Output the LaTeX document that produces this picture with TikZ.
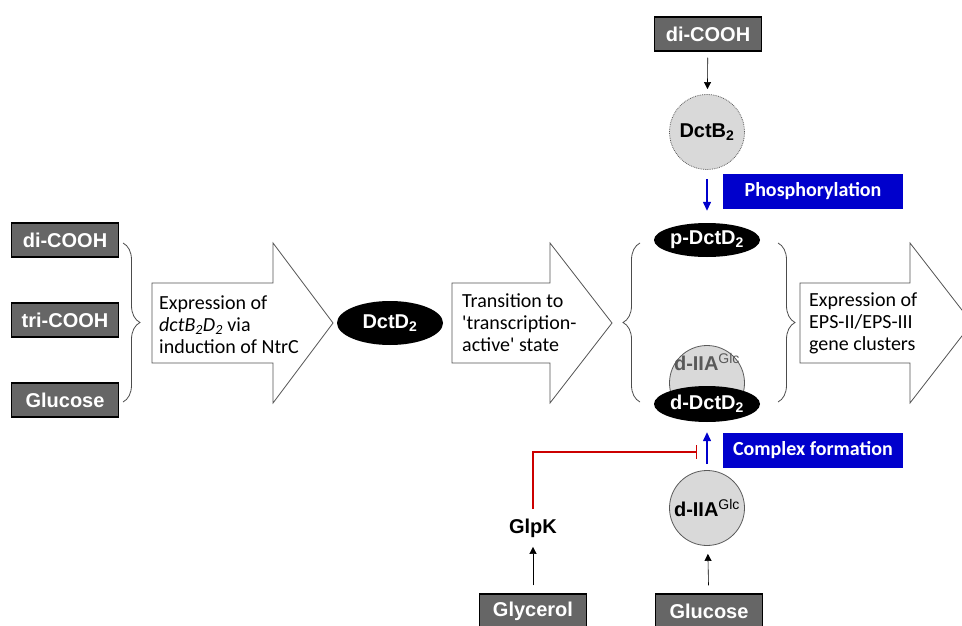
\documentclass[tikz,border=0pt]{standalone}
\usepackage{fontspec}
\setmainfont{Liberation Sans}
\newfontfamily\calibri{Carlito}
\usetikzlibrary{shapes.geometric,decorations.pathreplacing,arrows.meta}
\definecolor{boxgray}{HTML}{666666}
\definecolor{procblue}{HTML}{0000CC}
\definecolor{inhred}{HTML}{CC0000}
\definecolor{domgray}{HTML}{D9D9D9}
\tikzset{
  substrate/.style={rectangle,draw=black,line width=1.5pt,fill=boxgray,text=white,
    font=\fontsize{20}{22}\selectfont\bfseries,minimum width=107pt,minimum height=34pt,inner sep=0pt},
  protein/.style={ellipse,fill=black,text=white,font=\fontsize{20}{22}\selectfont\bfseries,
    minimum width=106pt,minimum height=34pt,inner sep=0pt},
  subunit/.style={circle,fill=domgray,draw=gray!70!black,line width=0.8pt,minimum size=75pt,
    inner sep=0pt,font=\fontsize{20}{22}\selectfont\bfseries},
  process/.style={rectangle,fill=procblue,text=white,font=\calibri\fontsize{20}{22}\selectfont\bfseries,
    minimum width=180pt,minimum height=35pt,inner sep=0pt},
  bigarrow/.style={draw=gray!65!black,fill=white,line width=0.8pt,line join=miter},
  steptext/.style={font=\calibri\fontsize{20}{22}\selectfont,align=left,anchor=west,inner sep=0pt},
  grouping/.style={draw=gray!60!black,line width=0.8pt,decorate,decoration={brace,amplitude=17pt}},
  flow/.style={-{Triangle[length=7pt,width=7pt]},line width=0.6pt},
  bluearrow/.style={-{Triangle[length=9pt,width=8pt]},procblue,line width=1.4pt},
}
\begin{document}
\begin{tikzpicture}[x=1pt,y=-1pt]
    \clip (0,0) rectangle (962,626);
    % big process arrows
    \draw[bigarrow] (152,283) -- (273,283) -- (273,243) -- (333,323) -- (273,403) -- (273,363) -- (152,363) -- cycle;
    \draw[bigarrow] (452,283) -- (550,283) -- (550,243) -- (612,323) -- (550,403) -- (550,363) -- (452,363) -- cycle;
    \draw[bigarrow] (800,283) -- (910,283) -- (910,243) -- (972,323) -- (910,403) -- (910,363) -- (800,363) -- cycle;
    \draw node (expr) at(159,325) [steptext] {Expression of\\{\itshape dctB\textsubscript{2}D\textsubscript{2}} via\\induction of NtrC}
          node (trans) at(462,323) [steptext] {Transition to\\'transcription-\\active' state}
          node (eps) at(809,323) [steptext] {Expression of\\EPS-II/EPS-III\\gene clusters};
    % carbon sources
    \draw node (dicooh) at(65,240) [substrate] {di-COOH}
          node (tricooh) at(65,320) [substrate] {tri-COOH}
          node (glc) at(65,400) [substrate] {Glucose}
          node (dctd) at(390,323) [protein,minimum height=44pt] {DctD\textsubscript{2}};
    \draw[grouping] (123,243) -- (123,402);
    \draw[grouping,decoration={mirror}] (640,243) -- (640,402);
    \draw[grouping] (778,243) -- (778,402);
    % phosphorylation branch
    \draw node (dicoohtop) at(708,34) [substrate] {di-COOH}
          node (dctb) at(707,132) [subunit,densely dotted] {DctB\textsubscript{2}}
          node (pdctd) at(707,240) [protein] {p-DctD\textsubscript{2}}
          node (phos) at(813,191) [process] {Phosphorylation};
    \draw[flow,shorten <=6pt,shorten >=5pt] (dicoohtop) -- (dctb);
    \draw[bluearrow,shorten <=9pt,shorten >=12pt] (dctb) -- (pdctd);
    % complex formation branch
    \draw node (iiacplx) at(707,383) [subunit] {}
          node at(707,362) [font=\fontsize{20}{22}\selectfont\bfseries,text=black!65] {d-IIA\textsuperscript{\mdseries Glc}}
          node (ddctd) at(707,404) [protein,minimum height=36pt] {d-DctD\textsubscript{2}}
          node (iia) at(707,508) [subunit] {d-IIA\textsuperscript{\mdseries Glc}}
          node (cplx) at(813,450) [process] {Complex formation}
          node (glcbot) at(709,611) [substrate] {Glucose}
          node (glyc) at(533,611) [substrate] {Glycerol}
          node (glpk) at(533,528) [font=\fontsize{20}{22}\selectfont\bfseries] {GlpK};
    \coordinate (block) at(697,452);
    \draw[bluearrow,shorten <=6pt,shorten >=10pt] (iia) -- (ddctd);
    \draw[flow,shorten <=8pt,shorten >=8pt] (glcbot) -- (iia);
    \draw[flow,shorten <=8pt,shorten >=6pt] (glyc) -- (glpk);
    \draw[inhred,line width=1.5pt,-{Bar[width=14pt,line width=1.5pt]},shorten <=6pt] (glpk.north) |- (block);
\end{tikzpicture}
\end{document}
